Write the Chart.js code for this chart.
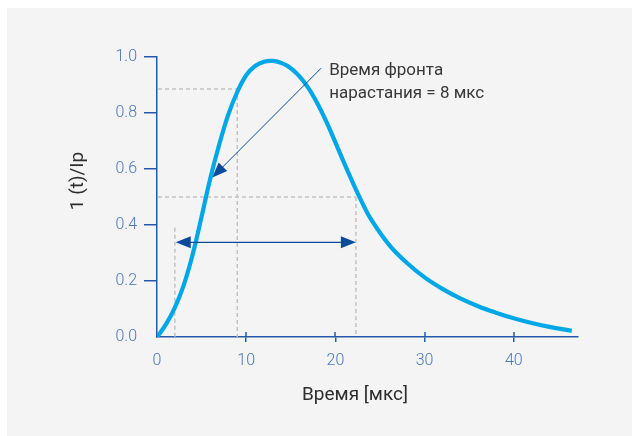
<!DOCTYPE html>
<html><head><meta charset="utf-8">
<script src="https://cdn.jsdelivr.net/npm/chart.js@4.4.1/dist/chart.umd.min.js"></script>
<style>
html,body{margin:0;padding:0;background:#fff;}
#wrap{position:relative;width:632px;height:436px;overflow:hidden;}
#panel{position:absolute;left:7px;top:8px;right:0;bottom:0;background:#f4f4f4;}
canvas{position:absolute;left:0;top:0;}
</style></head><body>
<div id="wrap"><div id="panel"></div><canvas id="c" width="632" height="436"></canvas></div>
<script>
// ---- data ----
const timeUs = [0, 1, 2, 3, 4, 5, 6, 7, 8, 9, 10, 11, 12, 13, 14, 15, 16, 17, 18, 19, 20, 21, 22, 23, 24, 26, 28, 30, 32, 34, 36, 38, 40, 42, 44, 46.5];
const currentRatio = [0, 0.045, 0.105, 0.185, 0.295, 0.43, 0.57, 0.69, 0.795, 0.875, 0.935, 0.968, 0.983, 0.986, 0.978, 0.96, 0.93, 0.888, 0.833, 0.768, 0.695, 0.62, 0.548, 0.48, 0.42, 0.33, 0.265, 0.213, 0.172, 0.138, 0.11, 0.087, 0.067, 0.05, 0.036, 0.022];
const xTickValues = [0, 10, 20, 30, 40];
const yTickValues = [0, 0.2, 0.4, 0.6, 0.8, 1.0];
const xTitle = 'Время [мкс]';
const yTitle = '1 (t)/Ip';
const noteLines = ['Время фронта', 'нарастания = 8 мкс'];
// guide values (data units)
const frontTime = 9.0, frontLevel = 0.886;
const halfTime = 22.3, halfLevel = 0.5;
const startTime = 2.0, startTop = 0.39;
const spanLevel = 0.338, spanFrom = 2.1, spanTo = 22.3;
const pointerFrom = [18.4, 0.96], pointerTo = [6.2, 0.57];
const noteAt = [19.3, 0.936], noteAt2 = [19.3, 0.852];

const AXIS = '#2458a8';
const TICKTXT = '#4a78bd';
const CURVE = '#00a7e7';
const ARROW = '#0c4a9c';
const DASH = '#c2c2c2';
const FONT = 'Roboto, "Open Sans", sans-serif';

function arrowHead(ctx, x1, y1, x2, y2, len, half) {
  const a = Math.atan2(y2 - y1, x2 - x1);
  ctx.beginPath();
  ctx.moveTo(x2, y2);
  ctx.lineTo(x2 - len * Math.cos(a) + half * Math.sin(a), y2 - len * Math.sin(a) - half * Math.cos(a));
  ctx.lineTo(x2 - len * Math.cos(a) - half * Math.sin(a), y2 - len * Math.sin(a) + half * Math.cos(a));
  ctx.closePath();
  ctx.fill();
}

const overlay = {
  id: 'overlay',
  beforeDatasetsDraw(chart) {
    const {ctx, scales: {x, y}} = chart;
    const px = v => x.getPixelForValue(v), py = v => y.getPixelForValue(v);
    ctx.save();
    ctx.strokeStyle = DASH; ctx.lineWidth = 1.5; ctx.setLineDash([4, 3]);
    const seg = (a, b, c, d) => { ctx.beginPath(); ctx.moveTo(a, b); ctx.lineTo(c, d); ctx.stroke(); };
    seg(px(0) + 1, py(frontLevel), px(frontTime), py(frontLevel));
    seg(px(frontTime), py(frontLevel), px(frontTime), py(0));
    seg(px(0) + 1, py(halfLevel), px(halfTime), py(halfLevel));
    seg(px(halfTime), py(halfLevel), px(halfTime), py(0));
    seg(px(startTime), py(startTop), px(startTime), py(0));
    ctx.restore();
  },
  afterDatasetsDraw(chart) {
    const {ctx, scales: {x, y}} = chart;
    const px = v => x.getPixelForValue(v), py = v => y.getPixelForValue(v);
    ctx.save();
    ctx.strokeStyle = ARROW; ctx.fillStyle = ARROW;
    const y0 = py(spanLevel), xa = px(spanFrom), xb = px(spanTo);
    ctx.lineWidth = 1.3;
    ctx.beginPath(); ctx.moveTo(xa + 10, y0); ctx.lineTo(xb - 10, y0); ctx.stroke();
    arrowHead(ctx, xb, y0, xa, y0, 15, 6);
    arrowHead(ctx, xa, y0, xb, y0, 15, 6);
    const p1x = px(pointerFrom[0]), p1y = py(pointerFrom[1]);
    const p2x = px(pointerTo[0]), p2y = py(pointerTo[1]);
    ctx.lineWidth = 1;
    const a = Math.atan2(p2y - p1y, p2x - p1x);
    ctx.beginPath(); ctx.moveTo(p1x, p1y); ctx.lineTo(p2x - 10 * Math.cos(a), p2y - 10 * Math.sin(a)); ctx.stroke();
    arrowHead(ctx, p1x, p1y, p2x, p2y, 15, 6);
    ctx.fillStyle = '#383838';
    ctx.font = '17px ' + FONT;
    ctx.textAlign = 'left'; ctx.textBaseline = 'alphabetic';
    ctx.fillText(noteLines[0], px(noteAt[0]), py(noteAt[1]));
    ctx.fillText(noteLines[1], px(noteAt2[0]), py(noteAt2[1]));
    ctx.restore();
  },
  afterDraw(chart) {
    const {ctx, scales: {x, y}} = chart;
    ctx.save();
    ctx.strokeStyle = AXIS; ctx.lineWidth = 1.5;
    const base = y.getPixelForValue(0);
    xTickValues.forEach(v => {
      if (v === 0) return;
      const p = Math.round(x.getPixelForValue(v));
      ctx.beginPath(); ctx.moveTo(p, base); ctx.lineTo(p, base - 5); ctx.stroke();
    });
    ctx.fillStyle = '#2e2e2e';
    ctx.font = '19px ' + FONT;
    ctx.textAlign = 'center'; ctx.textBaseline = 'middle';
    ctx.fillText(xTitle, 355, 395);
    ctx.translate(78, 181);
    ctx.rotate(-Math.PI / 2);
    ctx.fillText(yTitle, 0, 0);
    ctx.restore();
  }
};

new Chart(document.getElementById('c'), {
  type: 'line',
  data: {
    datasets: [{
      data: timeUs.map((t, i) => ({x: t, y: currentRatio[i]})),
      borderColor: CURVE,
      borderWidth: 4.2,
      pointRadius: 0,
      tension: 0.4,
      fill: false
    }]
  },
  options: {
    responsive: false,
    animation: false,
    devicePixelRatio: 1,
    layout: {padding: {left: 0, top: 57, right: 54, bottom: 0}},
    plugins: {legend: {display: false}, tooltip: {enabled: false}},
    scales: {
      x: {
        type: 'linear', min: 0, max: 47.2,
        afterBuildTicks: s => { s.ticks = xTickValues.map(v => ({value: v})); },
        afterFit: s => { s.height = 99; },
        ticks: {color: TICKTXT, font: {family: FONT, size: 16, weight: '300'}, padding: 9, callback: v => String(v)},
        grid: {drawOnChartArea: false, tickLength: 5, lineWidth: 1.5,
               color: c => (c.tick && c.tick.value === 0) ? 'rgba(0,0,0,0)' : AXIS},
        border: {display: true, color: AXIS, width: 1.5}
      },
      y: {
        type: 'linear', min: 0, max: 1,
        afterBuildTicks: s => { s.ticks = yTickValues.map(v => ({value: v})); },
        afterFit: s => { s.width = 157; },
        ticks: {color: TICKTXT, font: {family: FONT, size: 16, weight: '300'}, padding: 7, callback: v => Number(v).toFixed(1)},
        grid: {drawOnChartArea: false, tickLength: 13, lineWidth: 1.5,
               color: c => (c.tick && c.tick.value === 0) ? 'rgba(0,0,0,0)' : AXIS},
        border: {display: true, color: AXIS, width: 1.5}
      }
    }
  },
  plugins: [overlay]
});
</script>
</body></html>
